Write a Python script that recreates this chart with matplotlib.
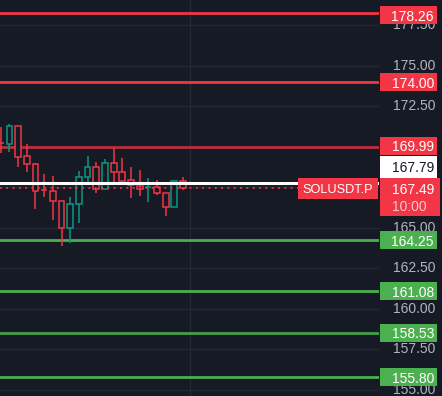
import matplotlib
matplotlib.use("Agg")
from matplotlib import pyplot as plt
from matplotlib import transforms
from matplotlib.patches import Rectangle

plt.rcParams['font.family'] = ['Liberation Sans', 'DejaVu Sans']

# candles (oldest -> newest)
opens = [170.26, 170.18, 171.29, 169.44, 168.94, 167.36, 167.28, 166.66, 165.00, 166.48, 168.14,
         168.76, 167.40, 169.01, 168.45, 167.96, 167.59, 167.50, 167.53, 167.16, 166.29, 167.90]
highs = [171.23, 171.41, 171.30, 170.18, 169.01, 168.33, 168.20, 166.66, 166.91, 168.51, 169.44,
         169.07, 169.25, 169.93, 169.31, 168.76, 168.57, 168.08, 167.96, 167.16, 167.96, 168.14]
lows = [169.62, 169.68, 168.76, 168.45, 166.17, 166.91, 165.49, 163.89, 164.07, 165.31, 167.83,
        167.16, 167.40, 167.83, 167.90, 166.85, 166.97, 166.60, 167.03, 165.74, 166.29, 167.34]
closes = [170.22, 171.29, 169.38, 168.94, 167.28, 167.32, 166.66, 165.00, 166.48, 168.14, 168.76,
          167.40, 169.01, 168.45, 167.90, 167.65, 167.40, 167.53, 167.16, 166.29, 167.90, 167.49]

# horizontal levels
red_levels = [178.26, 174.00]
mid_level = 169.99
green_levels = [164.25, 161.08, 158.53, 155.80]
last_price = 167.49
white_level = 167.79
ticks = [155.0, 157.5, 160.0, 162.5, 165.0, 167.5, 170.0, 172.5, 175.0, 177.5]
hidden_ticks = [167.5, 170.0]  # fully covered by the labels
symbol = "SOLUSDT.P"
countdown = "10:00"

BG = '#161a25'
GRID = '#252934'
RED = '#f23645'
TEAL = '#089981'
GREEN = '#4caf50'
FS = 10

W, H = 442, 396
fig = plt.figure(figsize=(W / 100, H / 100), dpi=100, facecolor=BG)
plot_w = 379
ax = fig.add_axes([0, 0, plot_w / W, 1])
ax.set_facecolor(BG)
ax.set_xlim(-0.09, 43.6)
ax.set_ylim(154.63, 179.06)
ax.axis('off')

# grid
for t in ticks:
    ax.axhline(t, color=GRID, lw=1, zorder=0)
ax.axvline(21.87, color=GRID, lw=1, zorder=0)

# levels
for lv in red_levels:
    ax.axhline(lv, color=RED, lw=2, zorder=1)
ax.axhline(mid_level, color='#b8303c', lw=2, zorder=1)
ax.axhline(green_levels[0], color=GREEN, lw=2, zorder=1)
ax.axhline(green_levels[1], color=GREEN, lw=2, zorder=1)
ax.axhline(green_levels[2], color='#43a047', lw=2, zorder=1)
ax.axhline(green_levels[3], color=GREEN, lw=2, zorder=1)

# candles
for i in range(len(opens)):
    o, h, l, c = opens[i], highs[i], lows[i], closes[i]
    col = TEAL if c > o else RED
    ax.vlines(i, l, h, color=col, lw=1.1, zorder=3)
    bot = min(o, c)
    hgt = max(abs(c - o), 0.04)
    ax.add_patch(Rectangle((i - 0.34, bot), 0.68, hgt, facecolor=BG, edgecolor=col,
                           lw=1.1, zorder=4))

ax.axhline(white_level, color='white', lw=2.2, zorder=5)
ax.axhline(last_price, color=RED, lw=1.3, ls=(0, (1, 2.5)), zorder=5)

# right price scale
tr = transforms.blended_transform_factory(fig.transFigure, ax.transData)
px = 1 / 16.21  # price units per pixel
for t in ticks:
    if t in hidden_ticks:
        continue
    fig.text(435 / W, t, f"{t:.2f}", transform=tr, ha='right', va='center',
             color='#b2b5be', fontsize=FS, zorder=2)


def label_box(y, txt, face, fg, x0=380, x1=437, hpx=18, center=None):
    cy = y if center is None else center
    r = Rectangle((x0 / W, cy - hpx / 2 * px), (x1 - x0) / W, hpx * px, transform=tr,
                  facecolor=face, edgecolor='none', zorder=6)
    fig.add_artist(r)
    fig.text((x1 - 3) / W, cy, txt, transform=tr, ha='right', va='center_baseline',
             color=fg, fontsize=FS, zorder=7)


label_box(red_levels[0], f"{red_levels[0]:.2f}", RED, 'white', center=red_levels[0] - 2.5 * px)
label_box(red_levels[1], f"{red_levels[1]:.2f}", RED, 'white')
label_box(mid_level, f"{mid_level:.2f}", RED, 'white', center=mid_level + 1.5 * px)
label_box(white_level, f"{white_level:.2f}", 'white', '#131722', hpx=22,
          center=white_level + 16 * px)
for lv in green_levels:
    label_box(lv, f"{lv:.2f}", GREEN, 'white')

# last price box with countdown
top = white_level + 5 * px
bot = top - 38 * px
fig.add_artist(Rectangle((380 / W, bot), 60 / W, top - bot, transform=tr,
                         facecolor=RED, edgecolor='none', zorder=6))
fig.text(392 / W, top - 11 * px, f"{last_price:.2f}", transform=tr, ha='left',
         va='center_baseline', color='white', fontsize=FS, zorder=7)
fig.text(392 / W, top - 28 * px, countdown, transform=tr, ha='left',
         va='center_baseline', color='#f9c6cb', fontsize=FS, zorder=7)

# symbol label
fig.add_artist(Rectangle((298 / W, top - 21 * px), 80 / W, 21 * px, transform=tr,
                         facecolor=RED, edgecolor='none', zorder=6))
fig.text(338 / W, top - 10.5 * px, symbol, transform=tr, ha='center',
         va='center_baseline', color='white', fontsize=9.2, zorder=7)

fig.savefig('out.png', dpi=100, facecolor=BG)
